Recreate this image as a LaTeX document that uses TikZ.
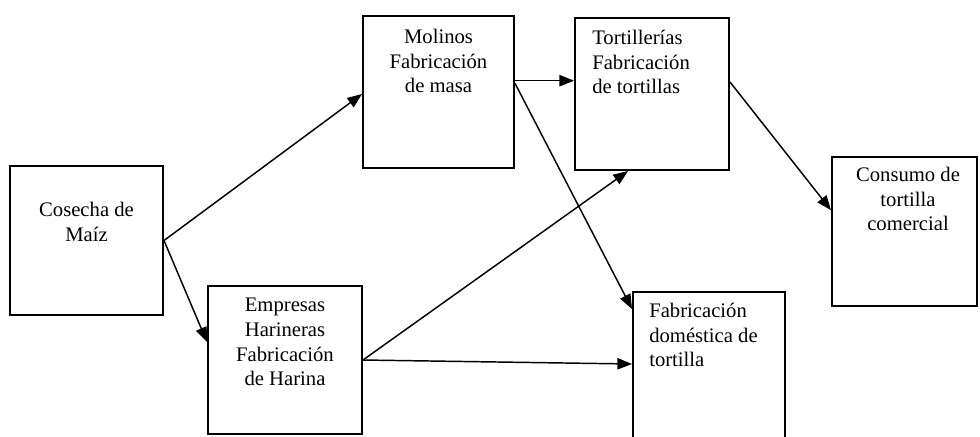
\documentclass[tikz,border=0pt]{standalone}
\usepackage{fontspec}
\setmainfont{Liberation Serif}
\usetikzlibrary{arrows.meta}
\begin{document}
\begin{tikzpicture}[x=0.75pt,y=-0.75pt,
  box/.style={draw,line width=1.5pt,inner sep=0pt},
  lbl/.style={inner sep=0pt,font=\fontsize{15.5}{18.5}\selectfont},
  arr/.style={line width=1.1pt,-{Triangle[length=11pt,width=8.5pt]}}]
\useasboundingbox (0,0) rectangle (980,436);
\clip (0,0) rectangle (980,436);
% boxes
\node[box,minimum width=114.75pt,minimum height=111.75pt] (cos) at (86.5,240.5) {};
\node[box,minimum width=113.25pt,minimum height=114pt] (mol) at (438.5,92) {};
\node[box,minimum width=115.5pt,minimum height=114pt] (tor) at (652,94) {};
\node[box,minimum width=108.75pt,minimum height=111.75pt] (con) at (904.5,231.5) {};
\node[box,minimum width=115.5pt,minimum height=111pt] (emp) at (285,360) {};
\node[box,minimum width=114pt,minimum height=111pt] (dom) at (709,366) {};
% texts
\node[lbl,align=center] (tcos) at (86.5,222) {Cosecha de\\Maíz};
\node[lbl,align=center] (tmol) at (438.5,61) {Molinos\\Fabricación\\de masa};
\node[lbl,align=left,anchor=west] (ttor) at (592,62) {Tortillerías\\Fabricación\\de tortillas};
\node[lbl,align=center] (tcon) at (908,199) {Consumo de\\tortilla\\comercial};
\node[lbl,align=center] (temp) at (285,342) {Empresas\\Harineras\\Fabricación\\de Harina};
\node[lbl,align=left,anchor=west] (tdom) at (649,335) {Fabricación\\doméstica de\\tortilla};
% connectors
\draw[arr] (cos.east) -- ([yshift=-1.5pt]mol.west);
\draw[arr] (cos.east) -- ([yshift=13.5pt]emp.west);
\draw[arr] ([yshift=8.5pt]mol.east) coordinate (m1) -- (m1 -| tor.west);
\draw[arr] ([yshift=6.5pt]mol.east) -- ([yshift=-13.5pt]dom.north west);
\draw[arr] (emp.east) -- ([xshift=-18pt]tor.south);
\draw[arr] (emp.east) -- ([yshift=-3pt]emp.east -| dom.west);
\draw[arr] ([yshift=9pt]tor.east) -- ([yshift=16pt]con.west);
\end{tikzpicture}
\end{document}
